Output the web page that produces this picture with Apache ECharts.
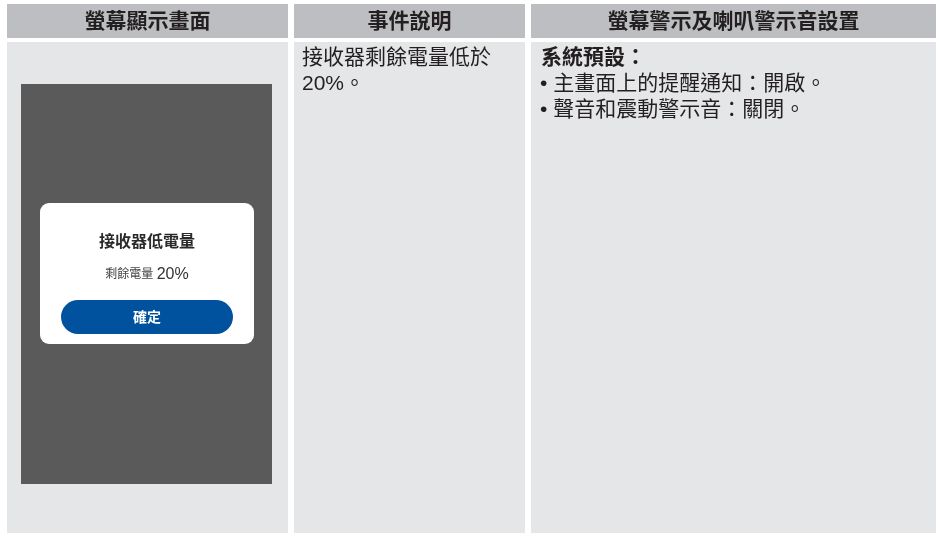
<!DOCTYPE html>
<html><head><meta charset="utf-8">
<script src="https://cdn.jsdelivr.net/npm/echarts@6/dist/echarts.min.js"></script>
<style>html,body{margin:0;padding:0;background:#fff}#c{width:939px;height:534px}</style>
</head><body><div id="c"></div>
<script>
const headers = ['螢幕顯示畫面', '事件說明', '螢幕警示及喇叭警示音設置'];
const eventLines = ['接收器剩餘電量低於', '20%。'];
const settingTitle = '系統預設：';
const settingLines = ['主畫面上的提醒通知：開啟。', '聲音和震動警示音：關閉。'];
const dialogTitle = '接收器低電量';
const dialogSubLabel = '剩餘電量';
const dialogSubValue = '20%';
const dialogButton = '確定';

const FONT = '"Liberation Sans", "Noto Sans CJK TC", "Noto Sans CJK SC", sans-serif';
const cols = [[7, 288], [294, 525], [531, 936]];
const headerColor = '#bdbec1', bodyColor = '#e5e6e8', textColor = '#231f20';
const els = [];
cols.forEach((c, i) => {
  els.push({type:'rect', shape:{x:c[0], y:4, width:c[1]-c[0], height:34}, style:{fill:headerColor}});
  els.push({type:'rect', shape:{x:c[0], y:42, width:c[1]-c[0], height:491}, style:{fill:bodyColor}});
  els.push({type:'text', x:(c[0]+c[1])/2, y:22, style:{text:headers[i], font:'bold 21px '+FONT, fill:textColor, align:'center', verticalAlign:'middle'}});
});
eventLines.forEach((t, i) => {
  els.push({type:'text', x:302, y:58 + i*26, style:{text:t, font:'21px '+FONT, fill:textColor, align:'left', verticalAlign:'middle'}});
});
els.push({type:'text', x:541, y:58, style:{text:settingTitle, font:'bold 21px '+FONT, fill:textColor, align:'left', verticalAlign:'middle'}});
settingLines.forEach((t, i) => {
  els.push({type:'text', x:540, y:84 + i*26, style:{text:'• '+t, font:'21px '+FONT, fill:textColor, align:'left', verticalAlign:'middle'}});
});
// phone screen
els.push({type:'rect', shape:{x:21, y:84, width:251, height:400}, style:{fill:'#5a5a5a'}});
els.push({type:'rect', shape:{x:40, y:203, width:214, height:141, r:9}, style:{fill:'#ffffff'}});
els.push({type:'text', x:147, y:243, style:{text:dialogTitle, font:'bold 16px '+FONT, fill:'#2a2a2a', align:'center', verticalAlign:'middle'}});
els.push({type:'text', x:147, y:275, style:{
  text:'{a|'+dialogSubLabel+'} {b|'+dialogSubValue+'}', align:'center', verticalAlign:'middle',
  rich:{a:{font:'12px '+FONT, fill:'#444'}, b:{font:'16px '+FONT, fill:'#333'}}}});
els.push({type:'rect', shape:{x:61, y:300, width:172, height:34, r:17}, style:{fill:'#00519e'}});
els.push({type:'text', x:147, y:318, style:{text:dialogButton, font:'bold 14px '+FONT, fill:'#ffffff', align:'center', verticalAlign:'middle'}});

const chart = echarts.init(document.getElementById('c'), null, {renderer:'canvas'});
chart.setOption({backgroundColor:'#ffffff', animation:false, graphic:{elements:els}});
</script></body></html>
